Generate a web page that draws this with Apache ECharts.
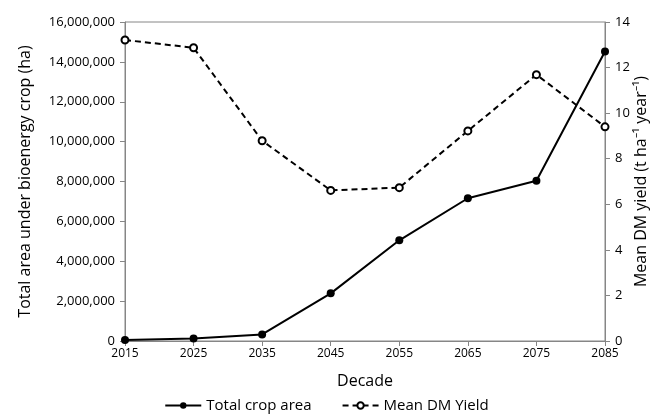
<!DOCTYPE html>
<html>
<head>
<meta charset="utf-8">
<script src="https://cdn.jsdelivr.net/npm/echarts@6/dist/echarts.min.js"></script>
<style>
  html, body { margin: 0; padding: 0; background: #fff; }
  #chart { width: 653px; height: 419px; }
</style>
</head>
<body>
<div id="chart"></div>
<script>
var decades = ['2015', '2025', '2035', '2045', '2055', '2065', '2075', '2085'];
var cropArea = [50000, 130000, 330000, 2390000, 5050000, 7160000, 8040000, 14520000];
var dmYield = [13.21, 12.87, 8.79, 6.61, 6.73, 9.22, 11.69, 9.4];

var axisColor = '#868686';
var font = 'Open Sans';

var myChart = echarts.init(document.getElementById('chart'));

var option = {
    animation: false,
    textStyle: { fontFamily: font },
    grid: {
        left: 125, right: 48, top: 22, bottom: 78,
        outerBoundsMode: 'none',
        containLabel: false,
        show: true, borderColor: axisColor, borderWidth: 1
    },
    legend: {
        bottom: 1,
        left: 'center',
        itemWidth: 36,
        itemHeight: 8,
        itemGap: 30,
        textStyle: { fontSize: 15, color: '#000', fontFamily: font },
        data: ['Total crop area', 'Mean DM Yield']
    },
    xAxis: {
        type: 'category',
        data: decades,
        boundaryGap: false,
        name: 'Decade',
        nameLocation: 'middle',
        nameGap: 32,
        nameTextStyle: { fontSize: 16, color: '#000' },
        axisLine: { lineStyle: { color: axisColor } },
        axisTick: { length: 5, lineStyle: { color: axisColor } },
        axisLabel: { fontSize: 12, color: '#000', margin: 7 }
    },
    yAxis: [
        {
            type: 'value',
            min: 0, max: 16000000, interval: 2000000,
            name: 'Total area under bioenergy crop (ha)',
            nameLocation: 'middle',
            nameGap: 92,
            nameTextStyle: { fontSize: 16, color: '#000' },
            splitLine: { show: false },
            axisLine: { show: true, lineStyle: { color: axisColor } },
            axisTick: { show: true, length: 5, lineStyle: { color: axisColor } },
            axisLabel: {
                fontSize: 13, color: '#000', margin: 10,
                formatter: function (v) { return v.toLocaleString('en-US'); }
            }
        },
        {
            type: 'value',
            min: 0, max: 14, interval: 2,
            name: 'Mean DM yield (t ha\u207B\u00B9 year\u207B\u00B9)',
            nameLocation: 'middle',
            nameGap: 28,
            nameRotate: 90,
            nameMoveOverlap: false,
            nameTextStyle: { fontSize: 16, color: '#000' },
            splitLine: { show: false },
            axisLine: { show: true, lineStyle: { color: axisColor } },
            axisTick: { show: true, length: 5, lineStyle: { color: axisColor } },
            axisLabel: { fontSize: 13, color: '#000', margin: 10 }
        }
    ],
    series: [
        {
            name: 'Total crop area',
            type: 'line',
            yAxisIndex: 0,
            data: cropArea,
            symbol: 'circle',
            symbolSize: 8,
            itemStyle: { color: '#000' },
            lineStyle: { color: '#000', width: 2 }
        },
        {
            name: 'Mean DM Yield',
            type: 'line',
            yAxisIndex: 1,
            data: dmYield,
            symbol: 'emptyCircle',
            symbolSize: 7,
            itemStyle: { color: '#000', borderColor: '#000', borderWidth: 1 },
            lineStyle: { color: '#000', width: 2, type: [6, 4] },
            z: 3
        }
    ]
};
myChart.setOption(option);
</script>
</body>
</html>
